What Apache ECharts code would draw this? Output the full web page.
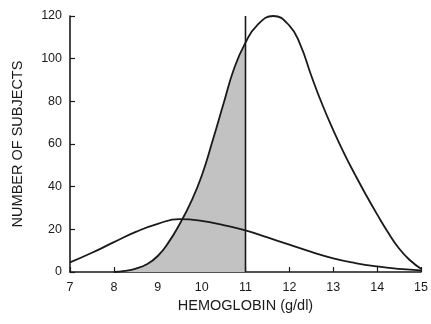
<!DOCTYPE html>
<html>
<head>
<meta charset="utf-8">
<script src="https://cdn.jsdelivr.net/npm/echarts@6/dist/echarts.min.js"></script>
<style>
html,body{margin:0;padding:0;background:#fff;}
#chart{width:431px;height:324px;}
</style>
</head>
<body>
<div id="chart"></div>
<script>
// Normal subjects (large curve): hemoglobin (g/dl) and number of subjects
var normalHb    = [8.0, 8.25, 8.5, 8.75, 9.0, 9.25, 9.5, 9.75, 10.0, 10.25, 10.5, 10.75, 11.0, 11.25, 11.63, 12.0, 12.25, 12.5, 12.75, 13.0, 13.25, 13.5, 13.75, 14.0, 14.25, 14.5, 14.75, 15.0];
var normalCount = [0,   0.5,  1.6, 3.6,  7.5, 14,   22.5, 32.5, 45,   61.5,  79,   96,    107.5, 115.3, 120,   115.5, 106.5, 92,  78.5,  66.5, 55.5,  45.5, 36,    27,   18.5,  11,   5.5,   1.5];
// Anemic subjects (small curve)
var anemicHb    = [7.0, 7.5, 8.0, 8.5, 9.0, 9.5, 10.0, 10.5, 11.0, 11.5, 12.0, 12.5, 13.0, 13.5, 14.0, 14.5, 15.0];
var anemicCount = [4.5, 9,   14,  18.8, 22.6, 24.8, 24, 22,   19.5, 16.2, 12.8, 9.4,  6.4,  4.2,  2.6,  1.5,  0.8];
// Cutoff value
var cutoffHb = 11;
var cutoffTop = 120;
// Axis ticks
var xTicks = [7, 8, 9, 10, 11, 12, 13, 14, 15];
var yTicks = [0, 20, 40, 60, 80, 100, 120];

function pairs(xs, ys) { return xs.map(function (x, i) { return [x, ys[i]]; }); }
var normalData = pairs(normalHb, normalCount);
var anemicData = pairs(anemicHb, anemicCount);
var shadedData = normalData.filter(function (p) { return p[0] <= cutoffHb; });
var cutoffData = [[cutoffHb, 0], [cutoffHb, cutoffTop]];

var font = 'Liberation Sans, Arial, sans-serif';
var chart = echarts.init(document.getElementById('chart'), null, { renderer: 'canvas' });
chart.setOption({
  animation: false,
  backgroundColor: '#fff',
  grid: { left: 70, right: 10, top: 16, bottom: 52, containLabel: false },
  xAxis: {
    type: 'value',
    min: xTicks[0], max: xTicks[xTicks.length - 1], interval: 1,
    name: 'HEMOGLOBIN (g/dl)', nameLocation: 'middle', nameGap: 21,
    nameTextStyle: { fontFamily: font, fontSize: 14.5, color: '#1a1a1a' },
    axisLine: { lineStyle: { color: '#1a1a1a', width: 1.6 } },
    axisTick: { inside: true, length: 5, lineStyle: { color: '#1a1a1a', width: 1.2 } },
    axisLabel: { fontFamily: font, fontSize: 12.5, color: '#1a1a1a', margin: 9 },
    splitLine: { show: false }
  },
  yAxis: {
    type: 'value',
    min: yTicks[0], max: yTicks[yTicks.length - 1], interval: 20,
    name: 'NUMBER OF SUBJECTS', nameLocation: 'middle', nameGap: 45,
    nameTextStyle: { fontFamily: font, fontSize: 14.5, color: '#1a1a1a' },
    axisLine: { show: true, lineStyle: { color: '#1a1a1a', width: 1.6 } },
    axisTick: { show: true, inside: true, length: 5, lineStyle: { color: '#1a1a1a', width: 1.2 } },
    axisLabel: { fontFamily: font, fontSize: 12.5, color: '#1a1a1a', margin: 8 },
    splitLine: { show: false }
  },
  series: [
    {
      type: 'line', data: shadedData, smooth: 0.5, symbol: 'none',
      lineStyle: { width: 0 },
      areaStyle: { color: '#c2c2c2', opacity: 1 },
      z: 1
    },
    {
      type: 'line', data: normalData, smooth: 0.5, symbol: 'none',
      lineStyle: { color: '#1a1a1a', width: 1.8 },
      z: 3
    },
    {
      type: 'line', data: anemicData, smooth: 0.5, symbol: 'none',
      lineStyle: { color: '#1a1a1a', width: 1.8 },
      z: 3
    },
    {
      type: 'line', data: cutoffData, symbol: 'none',
      lineStyle: { color: '#1a1a1a', width: 1.6 },
      z: 4
    }
  ]
});
</script>
</body>
</html>
